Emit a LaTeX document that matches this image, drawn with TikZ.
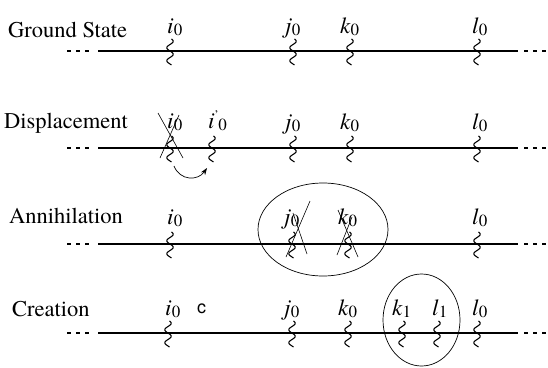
\documentclass[tikz,border=0pt]{standalone}
\usepackage{fontspec}
\setmainfont{texgyretermes}[Extension=.otf, UprightFont=*-regular, ItalicFont=*-italic, BoldFont=*-bold, BoldItalicFont=*-bolditalic]
\newfontfamily\sanscf{texgyreheros}[Extension=.otf, UprightFont=*-regular]
\usetikzlibrary{arrows.meta,shapes.geometric}
\newcommand\lbsub[2]{#1\kern0.3pt\raisebox{-2.5pt}{\fontsize{17}{17}\selectfont\upshape #2}}
\newcommand\lbprime[2]{#1\raisebox{9pt}{\fontsize{13}{13}\selectfont\upshape ’}\kern-0.5pt\raisebox{-2.5pt}{\fontsize{17}{17}\selectfont\upshape #2}}
\begin{document}
\begin{tikzpicture}[x=1pt,y=-1pt,
  rowname/.style={anchor=base west, inner sep=0pt, font=\fontsize{22.5}{26}\selectfont},
  lab/.style={anchor=base west, inner sep=0pt, font=\fontsize{23}{26}\selectfont\itshape},
  sanslab/.style={anchor=base west, inner sep=0pt, font=\sanscf\fontsize{18}{21}\selectfont},
  dashl/.style={line width=1.4pt, dash pattern=on 4pt off 5pt},
  crossl/.style={line width=0.6pt},
  ring/.style={draw, ellipse, line width=0.7pt, inner sep=0pt},
  kink/.pic={\draw[line width=1.1pt] plot[smooth, domain=-12:14, samples=27] ({3.2*sin(27.7*\x)}, \x);}
]
\useasboundingbox (0,0) rectangle (548,367);

% rows: lines
\foreach \n/\yy/\w in {1/51/1.6, 2/148/1.6, 3/244/1.1, 4/333/1.1} {
  \coordinate (dla\n) at (67,\yy);
  \coordinate (dlb\n) at (89,\yy);
  \coordinate (sla\n) at (98,\yy);
  \coordinate (slb\n) at (518,\yy);
  \coordinate (dra\n) at (524,\yy);
  \coordinate (drb\n) at (548,\yy);
  \draw[dashl] (dla\n) -- (dlb\n);
  \draw[line width=\w pt] (sla\n) -- (slb\n);
  \draw[dashl] (dra\n) -- (drb\n);
}

% row names
\node[rowname] (n1) at (8,37) {Ground State};
\node[rowname] (n2) at (4,128) {Displacement};
\node[rowname] (n3) at (9,223) {Annihilation};
\node[rowname] (n4) at (12,316) {Creation};

% Row 1
\foreach \x in {170,293,350,477} { \pic at (\x,51) {kink}; }
\node[lab] (r1i) at (167,33) {\lbsub{i}{0}};
\node[lab] (r1j) at (285,33) {\lbsub{j}{0}};
\node[lab] (r1k) at (340,33) {\lbsub{k}{0}};
\node[lab] (r1l) at (472,33) {\lbsub{l}{0}};

% Row 2
\foreach \x in {170,212,293,350,477} { \pic at (\x,148) {kink}; }
\node[lab] (r2i) at (167,128) {\lbsub{i}{0}};
\node[lab] (r2ip) at (208,128) {\lbprime{i}{0}};
\node[lab] (r2j) at (285,129) {\lbsub{j}{0}};
\node[lab] (r2k) at (340,129) {\lbsub{k}{0}};
\node[lab] (r2l) at (472,129) {\lbsub{l}{0}};
\draw[crossl] (158,113) -- (183,158);
\draw[crossl] (179,115) -- (160,158);
\coordinate (a1) at (174,166);
\coordinate (a2) at (207,168);
\draw[line width=0.7pt, -{Stealth[length=7pt,width=5pt]}] (a1) .. controls (180,181) and (198,181) .. (a2);

% Row 3
\foreach \x in {170,292,348,477} { \pic at (\x,244) {kink}; }
\node[lab] (r3i) at (167,224) {\lbsub{i}{0}};
\node[lab] (r3j) at (284,224) {\lbsub{j}{0}};
\node[lab] (r3k) at (338,224) {\lbsub{k}{0}};
\node[lab] (r3l) at (472,224) {\lbsub{l}{0}};
\draw[crossl] (310,201) -- (286,257);
\draw[crossl] (293,213) -- (307,254);
\draw[crossl] (338,210) -- (358,257);
\draw[crossl] (352,217) -- (337,255);
\node[ring, minimum width=130pt, minimum height=93pt] (e1) at (323,229.5) {};

% Row 4
\foreach \x in {168,292,348,402,437,477} { \pic at (\x,333) {kink}; }
\node[lab] (r4i) at (165,315) {\lbsub{i}{0}};
\node[sanslab] (r4c) at (197,313) {c};
\node[lab] (r4j) at (284,315) {\lbsub{j}{0}};
\node[lab] (r4k) at (338,315) {\lbsub{k}{0}};
\node[lab] (r4k1) at (392,315) {\lbsub{k}{1}};
\node[lab] (r4l1) at (432,315) {\lbsub{l}{1}};
\node[lab] (r4l) at (472,315) {\lbsub{l}{0}};
\node[ring, minimum width=77pt, minimum height=92pt] (e2) at (421.5,320) {};
\end{tikzpicture}
\end{document}
